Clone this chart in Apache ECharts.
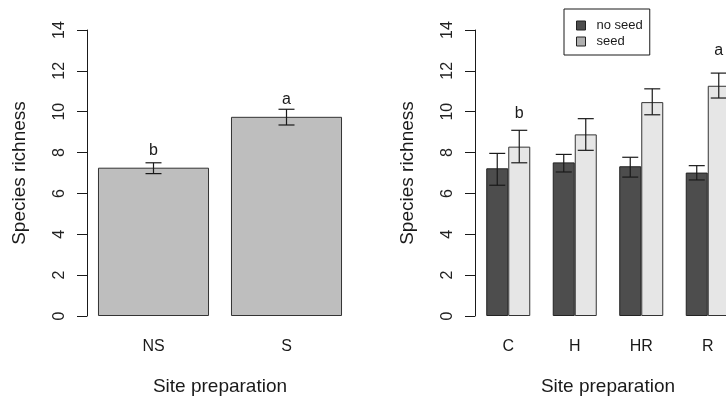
<!DOCTYPE html>
<html>
<head>
<meta charset="utf-8">
<script src="https://cdn.jsdelivr.net/npm/echarts@6/dist/echarts.min.js"></script>
<style>
    html, body { margin: 0; padding: 0; background: #fff; }
    #chart { width: 726px; height: 396px; }
</style>
</head>
<body>
<div id="chart"></div>
<script>
// left panel: seeded vs not seeded
const leftCats = ["NS", "S"];
const leftMean = [7.26, 9.75];
const leftLo = [6.97, 9.35];
const leftHi = [7.5, 10.12];
const leftLetters = ["b", "a"];
const leftLetterY = [8.1, 10.6];

// right panel: site preparation x seeding
const rightCats = ["C", "H", "HR", "R"];
const noSeedMean = [7.23, 7.52, 7.33, 7.02];
const noSeedLo = [6.4, 7.05, 6.8, 6.66];
const noSeedHi = [7.96, 7.91, 7.77, 7.36];
const seedMean = [8.29, 8.89, 10.47, 11.27];
const seedLo = [7.5, 8.11, 9.85, 10.67];
const seedHi = [9.09, 9.66, 11.12, 11.89];
const seedLetters = ["b", "", "", "a"];
const seedLetterY = [9.9, null, null, 13.0];

const yTicks = { min: 0, max: 14, interval: 2 };

const FONT = "'Liberation Sans', Arial, sans-serif";
const INK = "#1a1a1a";
const BAR_FRAC = 0.331; // one bar of the pair, as part of a category band

const chart = echarts.init(document.getElementById("chart"));

// error bars: vertical line plus two caps
function errorBars(offset) {
    return (params, api) => {
        const i = api.value(0);
        const lo = api.coord([i, api.value(1)]);
        const hi = api.coord([i, api.value(2)]);
        const band = api.size([1, 0])[0];
        const x = lo[0] + band * offset;
        const cap = 8;
        const style = { stroke: INK, lineWidth: 1.2 };
        return {
            type: "group",
            children: [
                { type: "line", shape: { x1: x, y1: lo[1], x2: x, y2: hi[1] }, style },
                { type: "line", shape: { x1: x - cap, y1: lo[1], x2: x + cap, y2: lo[1] }, style },
                { type: "line", shape: { x1: x - cap, y1: hi[1], x2: x + cap, y2: hi[1] }, style }
            ]
        };
    };
}

// significance letters
function letters(offset) {
    return (params, api) => {
        const i = api.value(0);
        const p = api.coord([i, api.value(1)]);
        const band = api.size([1, 0])[0];
        return {
            type: "text",
            style: {
                x: p[0] + band * offset,
                y: p[1],
                text: api.value(2),
                fill: INK,
                font: "16px " + FONT,
                align: "center",
                verticalAlign: "middle"
            }
        };
    };
}

const zip3 = (a, b, c) => a.map((v, i) => [i, b ? b[i] : v, c[i]]);

function yAxis(gridIndex) {
    return {
        type: "value",
        gridIndex,
        ...yTicks,
        name: "Species richness",
        nameLocation: "middle",
        nameGap: 58,
        nameTextStyle: { fontSize: 19, color: INK, fontFamily: FONT },
        axisLine: { show: true, lineStyle: { color: INK, width: 1 } },
        axisTick: { show: true, length: 10, lineStyle: { color: INK } },
        axisLabel: { rotate: 90, margin: 19, fontSize: 16, color: "#222", fontFamily: FONT },
        splitLine: { show: false }
    };
}

function xAxis(gridIndex, data) {
    return {
        type: "category",
        gridIndex,
        data,
        name: "Site preparation",
        nameLocation: "middle",
        nameGap: 61,
        nameTextStyle: { fontSize: 19, color: INK, fontFamily: FONT },
        axisLine: { show: false },
        axisTick: { show: false },
        axisLabel: { margin: 23, fontSize: 16, color: INK, fontFamily: FONT }
    };
}

const option = {
    animation: false,
    backgroundColor: "#fff",
    grid: [
        { left: 87, top: 30, width: 266, height: 286, containLabel: false, outerBoundsMode: "none" },
        { left: 475, top: 30, width: 266, height: 286, containLabel: false, outerBoundsMode: "none" }
    ],
    xAxis: [xAxis(0, leftCats), xAxis(1, rightCats)],
    yAxis: [yAxis(0), yAxis(1)],
    legend: {
        left: 564,
        top: 9,
        orient: "vertical",
        padding: [10, 7, 7, 12],
        itemGap: 3,
        itemWidth: 9,
        itemHeight: 9,
        backgroundColor: "#fff",
        borderColor: INK,
        borderWidth: 1,
        borderRadius: 0,
        icon: "rect",
        textStyle: { fontSize: 13, color: INK, fontFamily: FONT, padding: [0, 0, 0, 6] },
        data: [
            { name: "no seed", itemStyle: { color: "#4d4d4d", borderColor: "#222", borderWidth: 1 } },
            { name: "seed", itemStyle: { color: "#b0b0b0", borderColor: "#222", borderWidth: 1 } }
        ]
    },
    series: [
        {
            type: "bar",
            xAxisIndex: 0,
            yAxisIndex: 0,
            data: leftMean,
            barWidth: "83.5%",
            itemStyle: { color: "#bebebe", borderColor: "#333", borderWidth: 1 }
        },
        {
            type: "custom",
            xAxisIndex: 0,
            yAxisIndex: 0,
            renderItem: errorBars(0),
            data: zip3(leftMean, leftLo, leftHi),
            z: 5
        },
        {
            type: "custom",
            xAxisIndex: 0,
            yAxisIndex: 0,
            renderItem: letters(0),
            data: leftLetters.map((t, i) => [i, leftLetterY[i], t]),
            z: 5
        },
        {
            name: "no seed",
            type: "bar",
            xAxisIndex: 1,
            yAxisIndex: 1,
            data: noSeedMean,
            barWidth: (BAR_FRAC * 100).toFixed(1) + "%",
            barGap: "0%",
            itemStyle: { color: "#4d4d4d", borderColor: "#222", borderWidth: 1 }
        },
        {
            name: "seed",
            type: "bar",
            xAxisIndex: 1,
            yAxisIndex: 1,
            data: seedMean,
            barWidth: (BAR_FRAC * 100).toFixed(1) + "%",
            barGap: "0%",
            itemStyle: { color: "#e6e6e6", borderColor: "#333", borderWidth: 1 }
        },
        {
            type: "custom",
            xAxisIndex: 1,
            yAxisIndex: 1,
            renderItem: errorBars(-BAR_FRAC / 2),
            data: zip3(noSeedMean, noSeedLo, noSeedHi),
            z: 5
        },
        {
            type: "custom",
            xAxisIndex: 1,
            yAxisIndex: 1,
            renderItem: errorBars(BAR_FRAC / 2),
            data: zip3(seedMean, seedLo, seedHi),
            z: 5
        },
        {
            type: "custom",
            xAxisIndex: 1,
            yAxisIndex: 1,
            renderItem: letters(BAR_FRAC / 2),
            data: seedLetters
                .map((t, i) => [i, seedLetterY[i], t])
                .filter(d => d[2] !== ""),
            z: 5
        }
    ]
};

chart.setOption(option);
</script>
</body>
</html>
